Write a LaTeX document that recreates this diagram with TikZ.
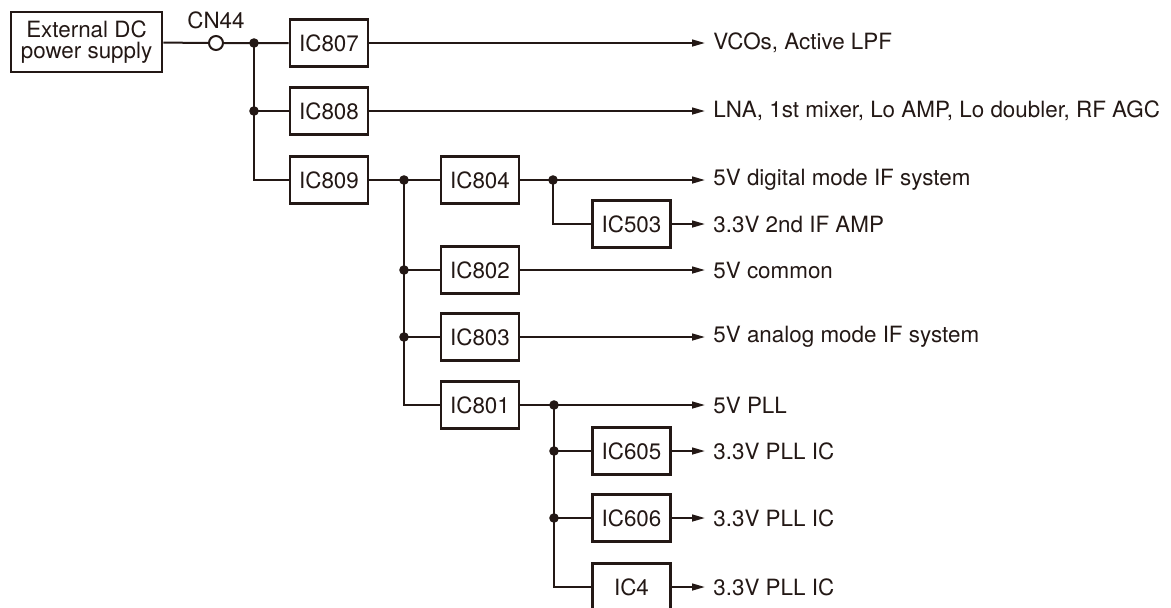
\documentclass[tikz,border=0pt]{standalone}
\usepackage{fontspec}
\setmainfont{TeX Gyre Heros}
\usetikzlibrary{arrows.meta,positioning}
\definecolor{ink}{HTML}{231815}
\tikzset{
  icbox/.style  ={rectangle,draw=ink,line width=1.3pt,minimum width=39pt,
                  minimum height=23.5pt,inner sep=0pt,align=center,
                  text=ink,font=\fontsize{11.2}{12}\selectfont},
  srcbox/.style ={icbox,minimum width=75.5pt,minimum height=30pt},
  outlbl/.style ={anchor=west,inner xsep=4pt,inner ysep=0pt,text=ink,
                  font=\fontsize{11.2}{12}\selectfont},
  jack/.style   ={circle,draw=ink,line width=1pt,fill=white,
                  minimum size=7pt,inner sep=0pt},
  wire/.style   ={draw=ink,line width=1pt},
  arr/.style    ={wire,-{Triangle[length=6.5pt,width=3.4pt]}},
  dot/.style    ={fill=ink}
}
\begin{document}
\begin{tikzpicture}[x=0.5pt,y=-0.5pt]
  \useasboundingbox (0,0) rectangle (1171,607);

  % Source and connector
  \node (ext)  at (86.5,42) [srcbox] {External DC\\[-1.5pt]power supply};
  \node (cn44) at (216,43)  [jack] {};
  \node (cn44lbl) at (216,20) [text=ink,font=\fontsize{11.2}{12}\selectfont] {CN44};

  % Regulators
  \node (ic807) at (329,43)    [icbox] {IC807};
  \node (ic808) at (329,111)   [icbox] {IC808};
  \node (ic809) at (329,180)   [icbox] {IC809};
  \node (ic804) at (480,180)   [icbox] {IC804};
  \node (ic802) at (480,270)   [icbox] {IC802};
  \node (ic803) at (480,337)   [icbox] {IC803};
  \node (ic801) at (480,405)   [icbox] {IC801};
  \node (ic503) at (631.5,224) [icbox] {IC503};
  \node (ic605) at (631.5,451) [icbox] {IC605};
  \node (ic606) at (631.5,518) [icbox] {IC606};
  \node (ic4)   at (631.5,587) [icbox] {IC4};

  % Loads
  \node (o807) at (705,43)  [outlbl] {VCOs, Active LPF};
  \node (o808) at (705,111) [outlbl] {LNA, 1st mixer, Lo AMP, Lo doubler, RF AGC};
  \node (o804) at (705,180) [outlbl] {5V digital mode IF system};
  \node (o503) at (705,224) [outlbl] {3.3V 2nd IF AMP};
  \node (o802) at (705,270) [outlbl] {5V common};
  \node (o803) at (705,337) [outlbl] {5V analog mode IF system};
  \node (o801) at (705,405) [outlbl] {5V PLL};
  \node (o605) at (705,451) [outlbl] {3.3V PLL IC};
  \node (o606) at (705,518) [outlbl] {3.3V PLL IC};
  \node (o4)   at (705,587) [outlbl] {3.3V PLL IC};

  % Junctions
  \coordinate (j1) at (254,43);
  \coordinate (j2) at (254,111);
  \coordinate (j3) at (404,180);
  \coordinate (j4) at (553,180);
  \coordinate (j5) at (404,270);
  \coordinate (j6) at (404,337);
  \coordinate (j7) at (554,405);
  \coordinate (j8) at (554,451);
  \coordinate (j9) at (554,518);

  % Wiring
  \draw[wire] (ext) -- (cn44) -- (j1) -- (ic807);
  \draw[wire] (j1) |- (ic809);
  \draw[wire] (j2) -- (ic808);
  \draw[wire] (ic809) -- (j3) -- (ic804);
  \draw[wire] (j3) |- (ic801);
  \draw[wire] (j5) -- (ic802);
  \draw[wire] (j6) -- (ic803);
  \draw[wire] (j4) |- (ic503);
  \draw[wire] (ic801) -- (j7);
  \draw[wire] (j7) |- (ic4);
  \draw[wire] (j8) -- (ic605);
  \draw[wire] (j9) -- (ic606);

  % Outputs
  \draw[arr] (ic807) -- (o807);
  \draw[arr] (ic808) -- (o808);
  \draw[arr] (ic804) -- (o804);
  \draw[arr] (ic503) -- (o503);
  \draw[arr] (ic802) -- (o802);
  \draw[arr] (ic803) -- (o803);
  \draw[arr] (ic801) -- (o801);
  \draw[arr] (ic605) -- (o605);
  \draw[arr] (ic606) -- (o606);
  \draw[arr] (ic4)   -- (o4);

  % Dots
  \foreach \j in {j1,j2,j3,j4,j5,j6,j7,j8,j9}
    \fill[dot] (\j) circle (2.4pt);
\end{tikzpicture}
\end{document}
